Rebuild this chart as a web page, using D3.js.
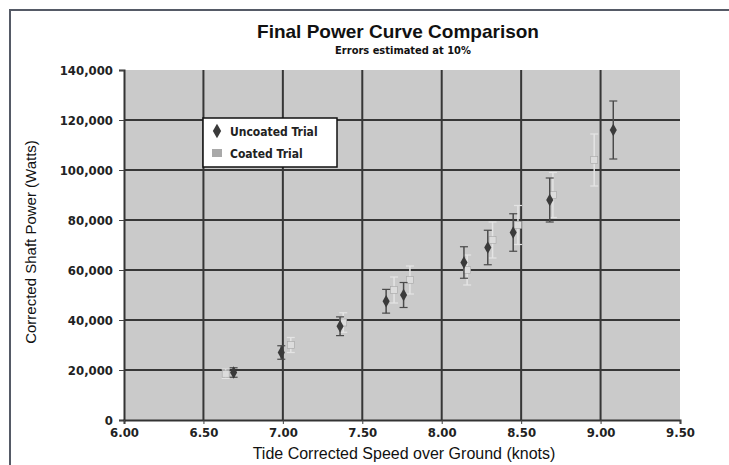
<!DOCTYPE html>
<html>
<head>
<meta charset="utf-8">
<script src="https://cdn.jsdelivr.net/npm/d3@7"></script>
<style>
  body { margin: 0; background: #fff; }
  svg { display: block; }
</style>
</head>
<body>
<script>
// Data (speed in knots, power in watts)
var uncoatedSpeed = [6.69, 6.99, 7.36, 7.65, 7.76, 8.14, 8.29, 8.45, 8.68, 9.08];
var uncoatedPower = [19000, 27000, 37500, 47500, 50000, 63000, 69000, 75000, 88000, 116000];
var coatedSpeed = [6.64, 7.05, 7.38, 7.70, 7.80, 8.16, 8.32, 8.48, 8.70, 8.96];
var coatedPower = [18500, 30000, 39000, 52000, 56000, 60000, 72000, 78000, 90000, 104000];
var errorFraction = 0.10; // "Errors estimated at 10%"

var xTicks = [6.0, 6.5, 7.0, 7.5, 8.0, 8.5, 9.0, 9.5];
var yTicks = [0, 20000, 40000, 60000, 80000, 100000, 120000, 140000];

var svgWidth = 729;
var svgHeight = 465;
var plot = { left: 124, right: 680, top: 70, bottom: 420 };

var svg = d3.select("body")
  .append("svg")
  .attr("width", svgWidth)
  .attr("height", svgHeight);

// outer frame (left and top edges visible in the scan)
svg.append("path")
  .attr("d", "M10," + svgHeight + " L10,10 L" + svgWidth + ",10")
  .attr("fill", "none")
  .attr("stroke", "#555a66")
  .attr("stroke-width", 2);

var xScale = d3.scaleLinear().domain([6.0, 9.5]).range([plot.left, plot.right]);
var yScale = d3.scaleLinear().domain([0, 140000]).range([plot.bottom, plot.top]);

// plot background
svg.append("rect")
  .attr("x", plot.left)
  .attr("y", plot.top)
  .attr("width", plot.right - plot.left)
  .attr("height", plot.bottom - plot.top)
  .attr("fill", "#cacaca");

// grid lines
svg.append("g").selectAll("line")
  .data(xTicks.slice(1, -1))
  .enter().append("line")
  .attr("x1", function(d) { return xScale(d); })
  .attr("x2", function(d) { return xScale(d); })
  .attr("y1", plot.top)
  .attr("y2", plot.bottom)
  .attr("stroke", "#363636")
  .attr("stroke-width", 2);

svg.append("g").selectAll("line")
  .data(yTicks.slice(1, -1))
  .enter().append("line")
  .attr("x1", plot.left)
  .attr("x2", plot.right)
  .attr("y1", function(d) { return yScale(d); })
  .attr("y2", function(d) { return yScale(d); })
  .attr("stroke", "#363636")
  .attr("stroke-width", 2);

// axes
var yAxis = svg.append("g")
  .attr("transform", "translate(" + plot.left + ",0)")
  .call(d3.axisLeft(yScale).tickValues(yTicks).tickFormat(d3.format(",")).tickSize(5).tickPadding(6));

var xAxis = svg.append("g")
  .attr("transform", "translate(0," + plot.bottom + ")")
  .call(d3.axisBottom(xScale).tickValues(xTicks).tickFormat(d3.format(".2f")).tickSize(4).tickPadding(4));

[yAxis, xAxis].forEach(function(a) {
  a.select(".domain").attr("stroke", "#333").attr("stroke-width", 2);
  a.selectAll(".tick line").attr("stroke", "#444");
  a.selectAll("text")
    .attr("fill", "#222")
    .style("font-family", "'DejaVu Sans Condensed', 'DejaVu Sans', sans-serif")
    .style("font-weight", "bold")
    .style("font-size", "13px");
});

// data rows
var uncoated = uncoatedSpeed.map(function(s, i) { return { x: s, y: uncoatedPower[i] }; });
var coated = coatedSpeed.map(function(s, i) { return { x: s, y: coatedPower[i] }; });

function drawSeries(data, color, capW) {
  var g = svg.append("g");
  g.selectAll("line.err")
    .data(data)
    .enter().append("line")
    .attr("class", "err")
    .attr("x1", function(d) { return xScale(d.x); })
    .attr("x2", function(d) { return xScale(d.x); })
    .attr("y1", function(d) { return yScale(d.y * (1 - errorFraction)); })
    .attr("y2", function(d) { return yScale(d.y * (1 + errorFraction)); })
    .attr("stroke", color)
    .attr("stroke-width", 1.5);
  [1 - errorFraction, 1 + errorFraction].forEach(function(f, k) {
    g.selectAll("line.cap" + k)
      .data(data)
      .enter().append("line")
      .attr("class", "cap" + k)
      .attr("x1", function(d) { return xScale(d.x) - capW; })
      .attr("x2", function(d) { return xScale(d.x) + capW; })
      .attr("y1", function(d) { return yScale(d.y * f); })
      .attr("y2", function(d) { return yScale(d.y * f); })
      .attr("stroke", color)
      .attr("stroke-width", 1.2);
  });
  return g;
}

var gc = drawSeries(coated, "#e4e4e4", 4);
gc.selectAll("rect")
  .data(coated)
  .enter().append("rect")
  .attr("x", function(d) { return xScale(d.x) - 3.5; })
  .attr("y", function(d) { return yScale(d.y) - 3.5; })
  .attr("width", 7)
  .attr("height", 7)
  .attr("fill", "#dcdcdc")
  .attr("stroke", "#a6a6a6")
  .attr("stroke-width", 0.6);

var gu = drawSeries(uncoated, "#4a4a4a", 4);
gu.selectAll("path")
  .data(uncoated)
  .enter().append("path")
  .attr("transform", function(d) { return "translate(" + xScale(d.x) + "," + yScale(d.y) + ")"; })
  .attr("d", d3.symbol().type(d3.symbolDiamond).size(44))
  .attr("fill", "#3a3a3a");

// legend
var lg = svg.append("g").attr("transform", "translate(203,118)");
lg.append("rect")
  .attr("width", 134).attr("height", 49)
  .attr("fill", "#fff").attr("stroke", "#111").attr("stroke-width", 1.5);
lg.append("path")
  .attr("transform", "translate(14,13)")
  .attr("d", d3.symbol().type(d3.symbolDiamond).size(60))
  .attr("fill", "#3a3a3a");
lg.append("rect")
  .attr("x", 9).attr("y", 31).attr("width", 10).attr("height", 8)
  .attr("fill", "#a9a9a9");
lg.selectAll("text")
  .data(["Uncoated Trial", "Coated Trial"])
  .enter().append("text")
  .attr("x", 27)
  .attr("y", function(d, i) { return 18 + i * 22; })
  .attr("fill", "#222")
  .style("font-family", "'DejaVu Sans Condensed', 'DejaVu Sans', sans-serif")
  .style("font-weight", "bold")
  .style("font-size", "12px")
  .text(function(d) { return d; });

// titles
svg.append("text")
  .attr("x", 398).attr("y", 38)
  .attr("text-anchor", "middle")
  .attr("fill", "#111")
  .style("font-family", "'Liberation Sans', sans-serif")
  .style("font-weight", "bold")
  .style("font-size", "19px")
  .text("Final Power Curve Comparison");

svg.append("text")
  .attr("x", 403).attr("y", 54)
  .attr("text-anchor", "middle")
  .attr("fill", "#111")
  .style("font-family", "'DejaVu Sans Condensed', 'DejaVu Sans', sans-serif")
  .style("font-weight", "bold")
  .style("font-size", "11px")
  .text("Errors estimated at 10%");

svg.append("text")
  .attr("transform", "translate(36,242) rotate(-90)")
  .attr("text-anchor", "middle")
  .attr("fill", "#111")
  .style("font-family", "'Liberation Sans', sans-serif")
  .style("font-size", "15px")
  .text("Corrected Shaft Power  (Watts)");

svg.append("text")
  .attr("x", 404).attr("y", 459)
  .attr("text-anchor", "middle")
  .attr("fill", "#111")
  .style("font-family", "'Liberation Sans', sans-serif")
  .style("font-size", "16px")
  .text("Tide Corrected Speed over Ground (knots)");
</script>
</body>
</html>
